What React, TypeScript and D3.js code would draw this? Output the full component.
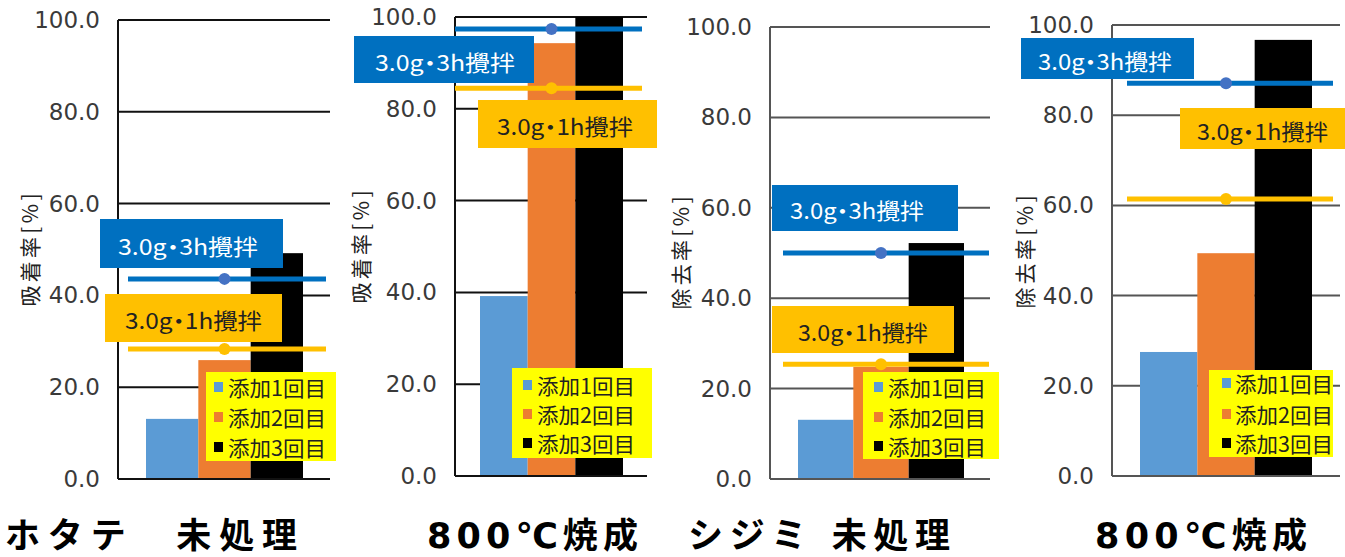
import React from "react";
import * as d3 from "d3";

// Chart text
const panelTitles = ["ホタテ　未処理", "800℃焼成", "シジミ 未処理", "800℃焼成"];
const yAxisTitles = ["吸着率[%]", "吸着率[%]", "除去率[%]", "除去率[%]"];
const seriesNames = ["添加1回目", "添加2回目", "添加3回目"];
const refLabels = ["3.0g・3h攪拌", "3.0g・1h攪拌"];
const yTicks = [0, 20, 40, 60, 80, 100];

// Values per panel (percent)
const addition1 = [13.1, 39.2, 13.1, 27.5];
const addition2 = [25.9, 94.3, 24.8, 49.4];
const addition3 = [49.2, 100.0, 52.2, 96.7];
const stir3h = [43.6, 97.4, 50.0, 87.1];
const stir1h = [28.3, 84.5, 25.4, 61.4];

const seriesColors = ["#5B9BD5", "#ED7D31", "#000000"];
const BLUE = "#0070C0";
const GOLD = "#FFC000";
const CJK = "'Noto Sans CJK JP', 'Noto Sans', sans-serif";
const NUM = "'DejaVu Sans', 'Noto Sans', sans-serif";
const TITLE = "'DejaVu Sans', 'Noto Sans CJK JP', sans-serif";
const palt = { fontFeatureSettings: "'palt'" } as React.CSSProperties;

type Box = [number, number, number, number];
interface Layout {
  axisX: number; right: number; yTop: number; yBottom: number;
  barX0: number; barX1: number; lineX0: number; lineX1: number;
  blueBox: Box; goldBox: Box; blueText: [number, number]; goldText: [number, number];
  legend: Box; legendMarkX: number; legendTextX: number;
  legendRows: number[]; yTitleX: number; yTitleY: number;
  titleX: number; titleW: number; grid: string;
}

const layouts: Layout[] = [
  { axisX: 118, right: 330, yTop: 20, yBottom: 479, barX0: 146, barX1: 303, lineX0: 128, lineX1: 326,
    blueBox: [100, 219, 183, 49], goldBox: [105, 294, 177, 48], blueText: [118, 140], goldText: [125, 137],
    legend: [206, 372, 130, 89],
    legendMarkX: 214, legendTextX: 228, legendRows: [387, 417, 447], yTitleX: 29, yTitleY: 250,
    titleX: 5, titleW: 292, grid: "#111" },
  { axisX: 455, right: 647, yTop: 17, yBottom: 476, barX0: 480, barX1: 623, lineX0: 455, lineX1: 642,
    blueBox: [354, 36, 180, 47], goldBox: [478, 100, 179, 48], blueText: [375, 140], goldText: [497, 136],
    legend: [512, 368, 140, 90],
    legendMarkX: 523, legendTextX: 537, legendRows: [385, 414, 443], yTitleX: 360, yTitleY: 247,
    titleX: 427, titleW: 211, grid: "#111" },
  { axisX: 770, right: 990, yTop: 27, yBottom: 479, barX0: 798, barX1: 964, lineX0: 783, lineX1: 989,
    blueBox: [772, 185, 186, 46], goldBox: [772, 306, 182, 47], blueText: [790, 134], goldText: [798, 130],
    legend: [863, 372, 136, 87],
    legendMarkX: 874, legendTextX: 888, legendRows: [387, 417, 446], yTitleX: 680, yTitleY: 253,
    titleX: 688, titleW: 262, grid: "#555" },
  { axisX: 1112, right: 1340, yTop: 25, yBottom: 476, barX0: 1140, barX1: 1312, lineX0: 1127, lineX1: 1333,
    blueBox: [1021, 38, 173, 41], goldBox: [1180, 108, 165, 41], blueText: [1038, 134], goldText: [1197, 131],
    legend: [1209, 370, 124, 87],
    legendMarkX: 1222, legendTextX: 1235, legendRows: [383, 414, 443], yTitleX: 1024, yTitleY: 252,
    titleX: 1095, titleW: 212, grid: "#555" },
];

function Panel({ i }: { i: number }) {
  const L = layouts[i];
  const y = d3.scaleLinear().domain([0, 100]).range([L.yBottom, L.yTop]);
  const x = d3.scaleBand<number>().domain([0, 1, 2]).range([L.barX0, L.barX1]).padding(0);
  const values = [addition1[i], addition2[i], addition3[i]];
  const dotX = (x(1) as number) + x.bandwidth() / 2;
  const refs = [
    { v: stir3h[i], color: BLUE, dot: "#4472C4", box: L.blueBox, tx: L.blueText, text: refLabels[0], fg: "#fff" },
    { v: stir1h[i], color: GOLD, dot: GOLD, box: L.goldBox, tx: L.goldText, text: refLabels[1], fg: "#222" },
  ];
  return (
    <g>
      {/* grid lines */}
      {yTicks.map((t) => (
        <line key={t} x1={L.axisX} x2={L.right} y1={y(t)} y2={y(t)} stroke={L.grid} strokeWidth={2} />
      ))}
      {/* tick labels */}
      {yTicks.map((t) => (
        <text key={"l" + t} x={L.axisX - 18} y={y(t)} textAnchor="end" dominantBaseline="central"
          fontFamily={NUM} fontSize={23} fill="#3a3a3a">{d3.format(".1f")(t)}</text>
      ))}
      {/* bars */}
      {values.map((v, k) => (
        <rect key={"b" + k} x={x(k)} y={y(v)} width={x.bandwidth()} height={y(0) - y(v)} fill={seriesColors[k]} />
      ))}
      <line x1={L.axisX} x2={L.axisX} y1={L.yTop} y2={L.yBottom} stroke={L.grid} strokeWidth={2} />
      <line x1={L.axisX} x2={L.right} y1={L.yBottom} y2={L.yBottom} stroke={L.grid} strokeWidth={2} />
      {/* y axis title */}
      <text transform={`translate(${L.yTitleX},${L.yTitleY}) rotate(-90)`} textAnchor="middle"
        dominantBaseline="central" fontFamily={CJK} fontSize={21} fill="#222" style={palt}
        textLength={113} lengthAdjust="spacing">{yAxisTitles[i]}</text>
      {/* reference lines */}
      {refs.map((r, k) => (
        <g key={"r" + k}>
          <line x1={L.lineX0} x2={L.lineX1} y1={y(r.v)} y2={y(r.v)} stroke={r.color} strokeWidth={5} />
          <circle cx={dotX} cy={y(r.v)} r={6} fill={r.dot} />
        </g>
      ))}
      {/* reference labels */}
      {refs.map((r, k) => (
        <g key={"t" + k}>
          <rect x={r.box[0]} y={r.box[1]} width={r.box[2]} height={r.box[3]} fill={r.color} />
          <text x={r.tx[0]} y={r.box[1] + r.box[3] / 2 + 1}
            dominantBaseline="central" fontFamily={CJK} fontSize={22} fill={r.fg} style={palt}
            textLength={r.tx[1]} lengthAdjust="spacingAndGlyphs">{r.text}</text>
        </g>
      ))}
      {/* legend */}
      <rect x={L.legend[0]} y={L.legend[1]} width={L.legend[2]} height={L.legend[3]} fill="#FFFF00" />
      {seriesNames.map((s, k) => (
        <g key={"g" + k}>
          <rect x={L.legendMarkX} y={L.legendRows[k] - 5} width={9} height={10} fill={seriesColors[k]} />
          <text x={L.legendTextX} y={L.legendRows[k]} dominantBaseline="central" fontFamily={CJK}
            fontSize={21} fill="#222" textLength={98} lengthAdjust="spacingAndGlyphs">{s}</text>
        </g>
      ))}
      {/* panel title */}
      <text x={L.titleX} y={548} fontFamily={TITLE} fontWeight={700} fontSize={35} fill="#000"
        textLength={L.titleW} lengthAdjust="spacing">{panelTitles[i]}</text>
    </g>
  );
}

export default function App() {
  return (
    <svg width={1345} height={557} style={{ position: "absolute", left: 0, top: 0, background: "#fff" }}>
      <rect width={1345} height={557} fill="#fff" />
      {layouts.map((_, i) => <Panel key={i} i={i} />)}
    </svg>
  );
}
